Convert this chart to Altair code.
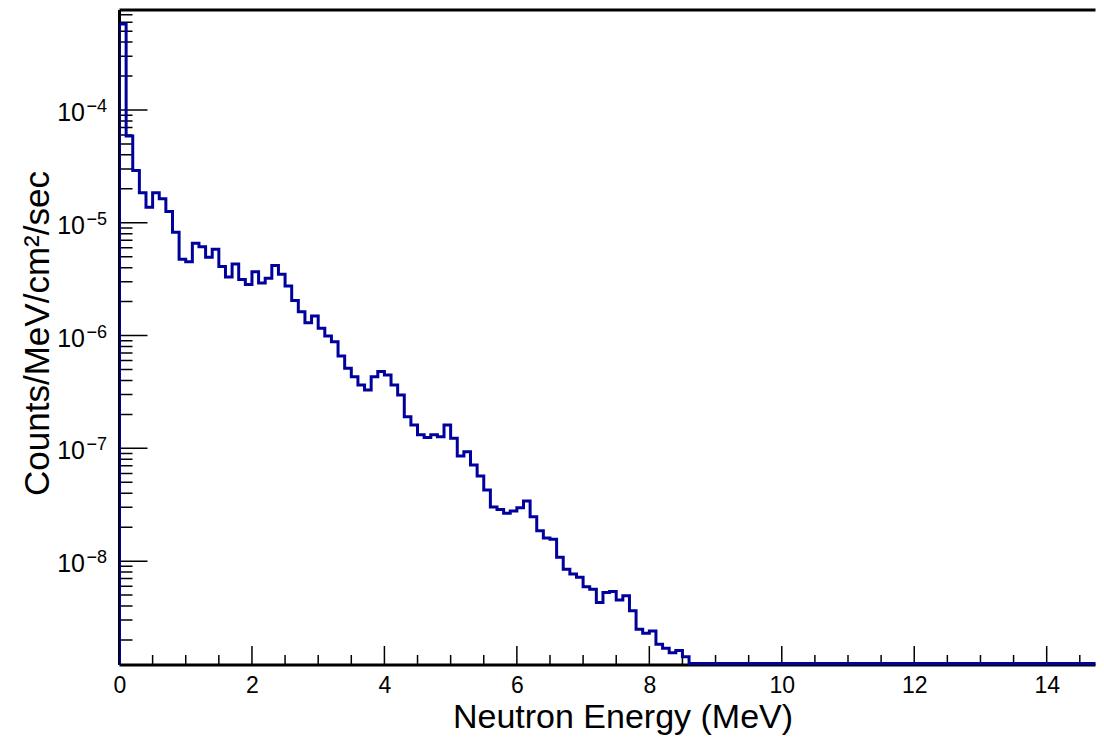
import altair as alt
import pandas as pd

# ---------------- data ----------------
BIN_WIDTH = 0.1          # MeV, 150 bins over 0-15 MeV
N_BINS = 150
E_END = 15.0

# counts / MeV / cm^2 / sec per 0.1 MeV bin (bins 0.0-0.1 ... 8.5-8.6), empty after
flux_nonzero = [
    5.79e-4, 5.88e-5, 2.90e-5, 1.85e-5, 1.37e-5, 1.85e-5, 1.63e-5, 1.26e-5, 8.24e-6, 4.75e-6,
    4.52e-6, 6.58e-6, 6.14e-6, 4.94e-6, 5.82e-6, 4.10e-6, 3.31e-6, 4.31e-6, 3.14e-6, 2.84e-6,
    3.68e-6, 2.93e-6, 3.22e-6, 4.18e-6, 3.50e-6, 2.75e-6, 2.05e-6, 1.63e-6, 1.30e-6, 1.49e-6,
    1.16e-6, 9.92e-7, 8.83e-7, 6.59e-7, 5.13e-7, 4.32e-7, 3.65e-7, 3.29e-7, 4.32e-7, 4.79e-7,
    4.47e-7, 3.65e-7, 2.97e-7, 1.91e-7, 1.61e-7, 1.32e-7, 1.25e-7, 1.32e-7, 1.27e-7, 1.61e-7,
    1.23e-7, 8.56e-8, 9.35e-8, 7.12e-8, 5.69e-8, 4.28e-8, 3.02e-8, 2.87e-8, 2.66e-8, 2.79e-8,
    2.98e-8, 3.42e-8, 2.48e-8, 1.86e-8, 1.60e-8, 1.56e-8, 1.08e-8, 8.48e-9, 7.70e-9, 7.20e-9,
    5.94e-9, 5.63e-9, 4.29e-9, 5.26e-9, 5.37e-9, 4.53e-9, 4.94e-9, 3.64e-9, 2.49e-9, 2.29e-9,
    2.40e-9, 1.83e-9, 1.69e-9, 1.54e-9, 1.61e-9, 1.42e-9,
]
flux = flux_nonzero + [0.0] * (N_BINS - len(flux_nonzero))

# axis ticks / labels
x_major = [0, 2, 4, 6, 8, 10, 12, 14]
x_minor = [0.5, 1, 1.5, 2.5, 3, 3.5, 4.5, 5, 5.5, 6.5, 7, 7.5, 8.5, 9, 9.5,
           10.5, 11, 11.5, 12.5, 13, 13.5, 14.5]
y_major = [1e-4, 1e-5, 1e-6, 1e-7, 1e-8]
y_exponents = ["\u22124", "\u22125", "\u22126", "\u22127", "\u22128"]
y_minor_mantissa = [2, 3, 4, 5, 6, 7, 8, 9]
y_minor_decades = [-9, -8, -7, -6, -5, -4]

# the screenshot cuts the plot short of 15 MeV
X_DOMAIN = [0, 14.737]
Y_DOMAIN = [1.2e-9, 7.7e-4]
ZERO_LEVEL = 1.24e-9   # where the empty bins are drawn (log axis floor)

# ---------------- tables ----------------
rows = [{"i": 0, "E": 0.0, "v": ZERO_LEVEL}]
for k, val in enumerate(flux):
    rows.append({"i": k + 1, "E": round(k * BIN_WIDTH, 4), "v": val if val > 0 else ZERO_LEVEL})
rows.append({"i": N_BINS + 1, "E": E_END, "v": flux[-1] if flux[-1] > 0 else ZERO_LEVEL})
hist_df = pd.DataFrame(rows)

xmaj_df = pd.DataFrame({"E": x_major})
xmin_df = pd.DataFrame({"E": x_minor})
ymaj_df = pd.DataFrame({"v": y_major, "exp": y_exponents})
ymin_df = pd.DataFrame({"v": [m * 10.0 ** d for d in y_minor_decades for m in y_minor_mantissa]})

W, H = 976, 655
FONT = "Liberation Sans"
LINE_COLOR = "#00009c"

x_scale = alt.Scale(domain=X_DOMAIN, nice=False, zero=False)
y_scale = alt.Scale(type="log", domain=Y_DOMAIN, nice=False)

x_axis = alt.Axis(
    values=x_major, ticks=False, tickSize=0, domain=False, grid=False,
    labelFont=FONT, labelFontSize=23, labelColor="black", labelPadding=9,
    labelFlush=False,
    title="Neutron Energy (MeV)", titleFont=FONT, titleFontSize=34,
    titleFontWeight="normal", titleColor="black",
    titleX=503, titleY=62, titleAlign="center", titleBaseline="alphabetic",
)
y_axis = alt.Axis(
    labels=False, ticks=False, tickSize=0, domain=False, grid=False,
    title="Counts/MeV/cm\u00b2/sec", titleFont=FONT, titleFontSize=35,
    titleFontWeight="normal", titleColor="black", titleAngle=270,
    titleX=-71.5, titleY=323, titleAlign="center", titleBaseline="alphabetic",
)

x_enc = alt.X("E:Q", scale=x_scale, axis=x_axis)
y_enc = alt.Y("v:Q", scale=y_scale, axis=y_axis)

# frame: top, left and bottom edges (the right edge lies outside the screenshot)
one_row = alt.Data(values=[{"k": 0}])
frame_top = alt.Chart(one_row).mark_rule(color="black", strokeWidth=3).encode(
    x=alt.value(0), x2=alt.value(W), y=alt.value(0))
frame_left = alt.Chart(one_row).mark_rule(color="black", strokeWidth=3).encode(
    x=alt.value(0), y=alt.value(0), y2=alt.value(H))
frame_bottom = alt.Chart(one_row).mark_rule(color="black", strokeWidth=3).encode(
    x=alt.value(0), x2=alt.value(W), y=alt.value(H))

hist = alt.Chart(hist_df).mark_line(
    interpolate="step-after", color=LINE_COLOR, strokeWidth=3, clip=True,
    strokeJoin="miter", strokeCap="square",
).encode(x=x_enc, y=y_enc, order="i:Q")

xmaj_ticks = alt.Chart(xmaj_df).mark_rule(color="black", strokeWidth=1.5).encode(
    x=x_enc, y=alt.value(H), y2=alt.value(H - 19))
xmin_ticks = alt.Chart(xmin_df).mark_rule(color="black", strokeWidth=1.5).encode(
    x=x_enc, y=alt.value(H), y2=alt.value(H - 10))
ymaj_ticks = alt.Chart(ymaj_df).mark_rule(color="black", strokeWidth=1.5, clip=True).encode(
    y=y_enc, x=alt.value(0), x2=alt.value(28))
ymin_ticks = alt.Chart(ymin_df).mark_rule(color="black", strokeWidth=1.5, clip=True).encode(
    y=y_enc, x=alt.value(0), x2=alt.value(13))

ylab_base = alt.Chart(ymaj_df).mark_text(
    align="right", baseline="alphabetic", dy=11, font=FONT, fontSize=25, color="black"
).encode(y=y_enc, x=alt.value(-34.5), text=alt.value("10"))
ylab_exp = alt.Chart(ymaj_df).mark_text(
    align="left", baseline="alphabetic", dy=2, font=FONT, fontSize=18, color="black"
).encode(y=y_enc, x=alt.value(-33), text="exp:N")

chart = alt.layer(
    frame_top, frame_left, frame_bottom,
    ymin_ticks, ymaj_ticks, xmin_ticks, xmaj_ticks, hist, ylab_base, ylab_exp
).properties(
    width=W, height=H,
    padding={"left": 111.5, "top": 2, "right": 0, "bottom": 71},
    autosize=alt.AutoSizeParams(type="none"),
    background="white",
).configure(
    font=FONT,
    view=alt.ViewConfig(stroke="transparent", fill="white"),
)

chart.save("out.html", embed_options={"renderer": "svg", "actions": False})
